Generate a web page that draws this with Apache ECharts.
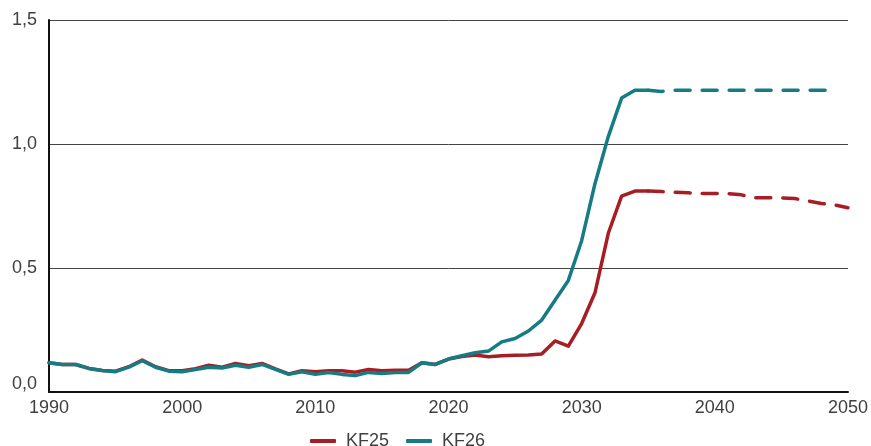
<!DOCTYPE html>
<html>
<head>
<meta charset="utf-8">
<script src="https://cdn.jsdelivr.net/npm/echarts@6/dist/echarts.min.js"></script>
<style>html,body{margin:0;padding:0;background:#fff}#c{width:871px;height:446px}</style>
</head>
<body>
<div id="c"></div>
<script>
var years = [1990,1991,1992,1993,1994,1995,1996,1997,1998,1999,
  2000,2001,2002,2003,2004,2005,2006,2007,2008,2009,
  2010,2011,2012,2013,2014,2015,2016,2017,2018,2019,
  2020,2021,2022,2023,2024,2025,2026,2027,2028,2029,
  2030,2031,2032,2033,2034,2035,2036,2037,2038,2039,
  2040,2041,2042,2043,2044,2045,2046,2047,2048,2049,2050];
var kf25 = [0.118,0.111,0.111,0.095,0.087,0.084,0.102,0.129,0.102,0.086,
  0.086,0.094,0.108,0.100,0.115,0.106,0.115,0.093,0.073,0.086,
  0.082,0.086,0.086,0.080,0.091,0.086,0.088,0.088,0.118,0.111,
  0.133,0.143,0.149,0.142,0.146,0.148,0.149,0.153,0.206,0.185,
  0.276,0.400,0.640,0.790,0.810,0.810,0.808,0.805,0.803,0.800,
  0.800,0.800,0.795,0.783,0.783,0.783,0.780,0.770,0.760,0.754,0.743];
var kf26 = [0.118,0.111,0.111,0.095,0.087,0.082,0.100,0.126,0.100,0.084,
  0.082,0.091,0.100,0.097,0.108,0.100,0.111,0.091,0.071,0.082,
  0.071,0.079,0.071,0.066,0.079,0.075,0.079,0.079,0.118,0.111,
  0.133,0.146,0.158,0.165,0.202,0.216,0.246,0.290,0.370,0.450,
  0.610,0.840,1.030,1.185,1.217,1.217,1.212,1.217,1.217,1.217,
  1.217,1.217,1.217,1.217,1.217,1.217,1.217,1.217,1.217,1.217,null];
var seriesNames = ['KF25','KF26'];
var splitYear = 2035;
var yTicks = ['0,0','0,5','1,0','1,5'];

function part(vals, solid) {
  var out = [];
  for (var i = 0; i < years.length; i++) {
    if (vals[i] == null) continue;
    if (solid ? years[i] <= splitYear : years[i] >= splitYear) out.push([years[i], vals[i]]);
  }
  return out;
}
var colors = ['#A61E24', '#167C84'];
var font = 'Arial, "Liberation Sans", sans-serif';
var series = [];
[kf25, kf26].forEach(function (vals, k) {
  series.push({
    name: seriesNames[k], type: 'line', data: part(vals, true), showSymbol: false,
    lineStyle: {width: 3.5, color: colors[k], cap: 'round', join: 'round'}, itemStyle: {color: colors[k]}, z: 3 + k
  });
  series.push({
    name: seriesNames[k], type: 'line', data: part(vals, false), showSymbol: false,
    lineStyle: {width: 3.5, color: colors[k], type: [15, 12], cap: 'round'}, itemStyle: {color: colors[k]}, z: 3 + k
  });
});
var chart = echarts.init(document.getElementById('c'));
chart.setOption({
  animation: false,
  backgroundColor: '#fff',
  grid: {left: 49, right: 21, top: 20, bottom: 54, containLabel: false},
  xAxis: {
    type: 'value', min: 1990, max: 2050, interval: 10,
    axisLine: {show: true, lineStyle: {color: '#111', width: 2}},
    axisTick: {show: false},
    splitLine: {show: false},
    axisLabel: {color: '#404040', fontSize: 18, fontFamily: font, margin: 7,
      formatter: function (v) { return String(v); }}
  },
  yAxis: {
    type: 'value', min: 0, max: 1.5, interval: 0.5,
    axisLine: {show: true, lineStyle: {color: '#111', width: 2}},
    axisTick: {show: false},
    splitLine: {show: true, lineStyle: {color: '#444', width: 1}},
    axisLabel: {
      color: '#404040', fontSize: 18, fontFamily: font, margin: 12,
      formatter: function (v) {
        var s = yTicks[Math.round(v / 0.5)];
        return v === 0 ? '{z|' + s + '}' : s;
      },
      rich: {z: {color: '#404040', fontSize: 18, fontFamily: font, padding: [0, 0, 16, 0]}}
    }
  },
  legend: {
    data: seriesNames, top: 427, left: 305, itemGap: 17,
    icon: 'roundRect', itemWidth: 26, itemHeight: 4,
    textStyle: {color: '#404040', fontSize: 18, fontFamily: font, padding: [0, 0, 0, 5]}
  },
  series: series
});
</script>
</body>
</html>
